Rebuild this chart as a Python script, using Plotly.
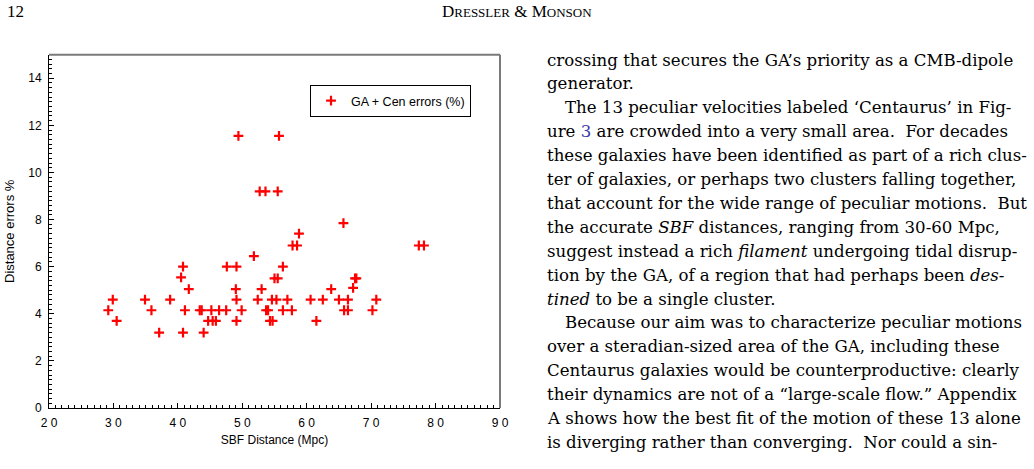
import plotly.graph_objects as go

W, H = 1034, 469

# ---- data ----
sbf_distance = [29.2, 29.9, 30.5, 34.9, 35.9, 37.1, 38.8, 40.5, 40.8, 40.8,
                41.1, 41.7, 43.4, 43.7, 44.0, 44.7, 45.2, 45.4, 45.9, 46.4,
                47.5, 47.6, 49.1, 49.0, 49.1, 49.1, 49.9, 49.4, 51.8, 52.4,
                52.7, 53.0, 53.6, 53.7, 54.0, 54.3, 54.6, 54.7, 55.0, 55.3,
                55.5, 55.5, 55.7, 56.3, 56.3, 57.0, 57.7, 57.8, 58.5, 58.8,
                60.6, 61.5, 62.5, 63.8, 65.0, 65.7, 65.8, 66.4, 66.4, 67.2,
                67.5, 67.7, 70.2, 70.8, 77.4, 78.2]
dist_error = [4.15, 4.6, 3.7, 4.6, 4.15, 3.2, 4.6, 5.55, 6.0, 3.2,
              4.15, 5.05, 4.15, 4.15, 3.2, 3.7, 4.15, 3.7, 3.7, 4.15,
              4.15, 6.0, 6.0, 5.05, 4.6, 3.7, 4.15, 11.55, 6.45, 4.6,
              9.2, 5.05, 9.2, 4.15, 4.15, 3.7, 4.6, 3.7, 5.5, 4.6,
              5.5, 9.2, 11.55, 6.0, 4.15, 4.6, 4.15, 6.9, 6.9, 7.4,
              4.6, 3.7, 4.6, 5.05, 4.6, 7.85, 4.15, 4.6, 4.15, 5.1,
              5.5, 5.5, 4.15, 4.6, 6.9, 6.9]
series_name = "GA + Cen errors (%)"

x_tickvals = [20, 30, 40, 50, 60, 70, 80, 90]
x_ticktext = ["2 0", "3 0", "4 0", "5 0", "6 0", "7 0", "8 0", "9 0"]
y_tickvals = [0, 2, 4, 6, 8, 10, 12, 14]
y_ticktext = ["0", "2", "4", "6", "8", "10", "12", "14"]

page_header_left = "12"
page_header_center = ("D<span style='font-size:13px'>RESSLER</span> &amp; "
                      "M<span style='font-size:13px'>ONSON</span>")

text_lines = [
    "crossing that secures the GA’s priority as a CMB-dipole",
    "generator.",
    "The 13 peculiar velocities labeled ‘Centaurus’ in Fig-",
    "ure <span style='color:#3a3aa8'>3</span> are crowded into a very small area.  For decades",
    "these galaxies have been identified as part of a rich clus-",
    "ter of galaxies, or perhaps two clusters falling together,",
    "that account for the wide range of peculiar motions.  But",
    "the accurate <i>SBF</i> distances, ranging from 30-60 Mpc,",
    "suggest instead a rich <i>filament</i> undergoing tidal disrup-",
    "tion by the GA, of a region that had perhaps been <i>des-</i>",
    "<i>tined</i> to be a single cluster.",
    "Because our aim was to characterize peculiar motions",
    "over a steradian-sized area of the GA, including these",
    "Centaurus galaxies would be counterproductive: clearly",
    "their dynamics are not of a “large-scale flow.” Appendix",
    "A shows how the best fit of the motion of these 13 alone",
    "is diverging rather than converging.  Nor could a sin-",
]
indented = [2, 11]

# ---- figure ----
x0, x1 = 49, 500
ytop, ybot = 54.7, 408

fig = go.Figure()
fig.add_trace(go.Scatter(
    x=sbf_distance, y=dist_error, mode="markers", name=series_name,
    marker=dict(symbol="cross-thin", size=7, color="red",
                line=dict(color="red", width=2.2)),
))

fig.update_layout(
    width=W, height=H,
    margin=dict(l=0, r=0, t=0, b=0),
    paper_bgcolor="white", plot_bgcolor="white",
    font=dict(family="Liberation Sans, Arial, sans-serif", size=12, color="black"),
    showlegend=True,
    legend=dict(x=310 / W, y=1 - 85 / H, xanchor="left", yanchor="top",
                bordercolor="black", borderwidth=1, bgcolor="white",
                font=dict(size=12.5), itemwidth=30),
    xaxis=dict(domain=[x0 / W, x1 / W], range=[20, 90], automargin=False,
               showline=True, linecolor="black", linewidth=1, mirror=False,
               showgrid=False, zeroline=False,
               tickvals=x_tickvals, ticktext=x_ticktext,
               ticks="inside", ticklen=5, tickcolor="black",
               minor=dict(dtick=1, ticks="inside", ticklen=3, tickcolor="black"),
               ticklabelstandoff=4, tickfont=dict(size=12),
               title=dict(text="SBF Distance (Mpc)", standoff=6,
                          font=dict(size=12))),
    yaxis=dict(domain=[1 - ybot / H, 1 - ytop / H], range=[0, 15], automargin=False,
               showline=True, linecolor="black", linewidth=1, mirror=False,
               showgrid=False, zeroline=False,
               tickvals=y_tickvals, ticktext=y_ticktext,
               ticks="inside", ticklen=5, tickcolor="black",
               minor=dict(dtick=0.2, ticks="inside", ticklen=3, tickcolor="black"),
               ticklabelstandoff=4, tickfont=dict(size=12),
               title=dict(text="Distance errors %", standoff=10,
                          font=dict(size=13))),
)

# gray frame (top and right borders)
fig.add_shape(type="line", xref="paper", yref="paper",
              x0=x0 / W, x1=x1 / W, y0=1 - ytop / H, y1=1 - ytop / H,
              line=dict(color="#7a7a7a", width=2))
fig.add_shape(type="line", xref="paper", yref="paper",
              x0=x1 / W, x1=x1 / W, y0=1 - ytop / H, y1=1 - ybot / H,
              line=dict(color="#7a7a7a", width=2))

serif = "DejaVu Serif, Liberation Serif, serif"
fig.add_annotation(text=page_header_left, xref="paper", yref="paper",
                   x=5 / W, y=1 - 12 / H, xanchor="left", yanchor="middle",
                   showarrow=False, font=dict(family="Liberation Serif, serif", size=17))
fig.add_annotation(text=page_header_center, xref="paper", yref="paper",
                   x=517 / W, y=1 - 12 / H, xanchor="center", yanchor="middle",
                   showarrow=False, font=dict(family="Liberation Serif, serif", size=17))

line_y0, line_dy = 60, 23.9
for i, t in enumerate(text_lines):
    xpx = 563 if i in indented else 545
    fig.add_annotation(text=t, xref="paper", yref="paper",
                       x=xpx / W, y=1 - (line_y0 + i * line_dy) / H,
                       xanchor="left", yanchor="middle", showarrow=False,
                       font=dict(family=serif, size=16.6, color="black"))

fig.write_html("out.html")
